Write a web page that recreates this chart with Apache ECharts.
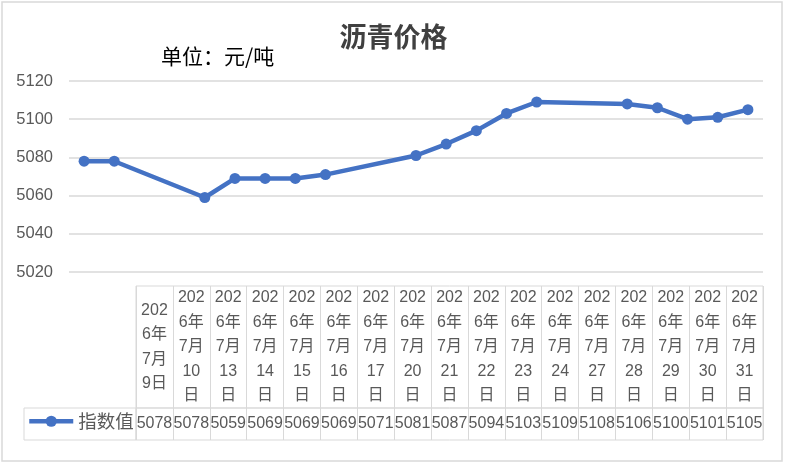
<!DOCTYPE html>
<html>
<head>
<meta charset="utf-8">
<script src="https://cdn.jsdelivr.net/npm/echarts@6/dist/echarts.min.js"></script>
<style>
  html, body { margin: 0; padding: 0; background: #fff; }
  #chart { width: 787px; height: 464px; }
</style>
</head>
<body>
<div id="chart"></div>
<script>
// data
var dates = ['2026-07-09', '2026-07-10', '2026-07-13', '2026-07-14', '2026-07-15', '2026-07-16',
             '2026-07-17', '2026-07-20', '2026-07-21', '2026-07-22', '2026-07-23', '2026-07-24',
             '2026-07-27', '2026-07-28', '2026-07-29', '2026-07-30', '2026-07-31'];
var dateLabels = ['2026年7月9日', '2026年7月10日', '2026年7月13日', '2026年7月14日', '2026年7月15日',
                  '2026年7月16日', '2026年7月17日', '2026年7月20日', '2026年7月21日', '2026年7月22日',
                  '2026年7月23日', '2026年7月24日', '2026年7月27日', '2026年7月28日', '2026年7月29日',
                  '2026年7月30日', '2026年7月31日'];
var values = [5078, 5078, 5059, 5069, 5069, 5069, 5071, 5081, 5087, 5094, 5103, 5109, 5108, 5106, 5100, 5101, 5105];
var yTicks = [5020, 5040, 5060, 5080, 5100, 5120];
var seriesName = '指数值';

var numFont = '"Liberation Sans", "Noto Sans CJK SC", sans-serif';
var cjkFont = '"Noto Sans CJK SC", "Liberation Sans", sans-serif';
var gridColor = '#d9d9d9';
var textColor = '#595959';
var lineColor = '#4472C4';

// excel-like wrapping of the date text inside the narrow table columns
function wrapDate(s) {
  var rest = s.slice(7);
  var tail = rest.length > 2 ? rest.slice(0, -1) + '\n' + rest.slice(-1) : rest;
  return s.slice(0, 3) + '\n' + s.slice(3, 5) + '\n' + s.slice(5, 7) + '\n' + tail;
}

var points = [];
for (var i = 0; i < dates.length; i++) {
  points.push([dates[i], values[i]]);
}

var chart = echarts.init(document.getElementById('chart'));

chart.setOption({
  animation: false,
  backgroundColor: '#fff',
  title: [{
    text: '沥青价格',
    left: 'center',
    top: 18,
    textStyle: { fontFamily: cjkFont, fontSize: 27, fontWeight: 'bold', color: '#404040' }
  }, {
    text: '单位：元/吨',
    left: 156,
    top: 41,
    textStyle: { fontFamily: cjkFont, fontSize: 21, fontWeight: 'normal', color: '#000' }
  }],
  graphic: [{
    type: 'rect',
    shape: { x: 2, y: 2, width: 780, height: 459 },
    style: { fill: 'none', stroke: gridColor, lineWidth: 1.5 },
    silent: true
  }],
  legend: {
    left: 27,
    top: 412,
    padding: 0,
    itemWidth: 44,
    itemHeight: 14,
    lineStyle: { width: 4.5 },
    textStyle: { fontFamily: cjkFont, fontSize: 18.5, color: textColor },
    data: [seriesName]
  },
  grid: [
    { left: 69, width: 694, top: 81, height: 191 },
    { left: 136, width: 627, top: 286, height: 122, show: true, borderColor: gridColor, borderWidth: 1 },
    { left: 136, width: 627, top: 408, height: 32, show: true, borderColor: gridColor, borderWidth: 1 },
    { left: 24, width: 112, top: 408, height: 32, show: true, borderColor: gridColor, borderWidth: 1 }
  ],
  xAxis: [{
    gridIndex: 0,
    type: 'time',
    min: '2026-07-08 12:00',
    max: '2026-07-31 12:00',
    show: false
  }, {
    gridIndex: 1,
    type: 'category',
    position: 'top',
    data: dateLabels,
    axisLine: { show: false },
    axisTick: { show: false },
    splitLine: { show: true, interval: 0, lineStyle: { color: gridColor, width: 1 } },
    axisLabel: {
      inside: true,
      interval: 0,
      margin: 61,
      verticalAlign: 'middle',
      lineHeight: 24.5,
      fontFamily: numFont,
      fontSize: 16,
      color: textColor,
      formatter: wrapDate
    }
  }, {
    gridIndex: 2,
    type: 'category',
    position: 'top',
    data: values.map(String),
    axisLine: { show: false },
    axisTick: { show: false },
    splitLine: { show: true, interval: 0, lineStyle: { color: gridColor, width: 1 } },
    axisLabel: {
      inside: true,
      interval: 0,
      margin: 16,
      verticalAlign: 'middle',
      fontFamily: numFont,
      fontSize: 16,
      color: textColor
    }
  }, {
    gridIndex: 3,
    type: 'value',
    show: false
  }],
  yAxis: [{
    gridIndex: 0,
    type: 'value',
    min: yTicks[0],
    max: yTicks[yTicks.length - 1],
    interval: 20,
    axisLine: { show: false },
    axisTick: { show: false },
    splitLine: { lineStyle: { color: gridColor, width: 1.5 } },
    axisLabel: {
      margin: 16,
      fontFamily: numFont,
      fontSize: 16.5,
      color: textColor,
      formatter: function (v) { return String(v); }
    }
  }, {
    gridIndex: 1, type: 'value', min: 0, max: 1, show: false
  }, {
    gridIndex: 2, type: 'value', min: 0, max: 1, show: false
  }, {
    gridIndex: 3, type: 'value', min: 0, max: 1, show: false
  }],
  series: [{
    name: seriesName,
    type: 'line',
    xAxisIndex: 0,
    yAxisIndex: 0,
    data: points,
    color: lineColor,
    symbol: 'circle',
    symbolSize: 11,
    showSymbol: true,
    lineStyle: { width: 4.5, color: lineColor },
    itemStyle: { color: lineColor }
  }]
});
</script>
</body>
</html>
